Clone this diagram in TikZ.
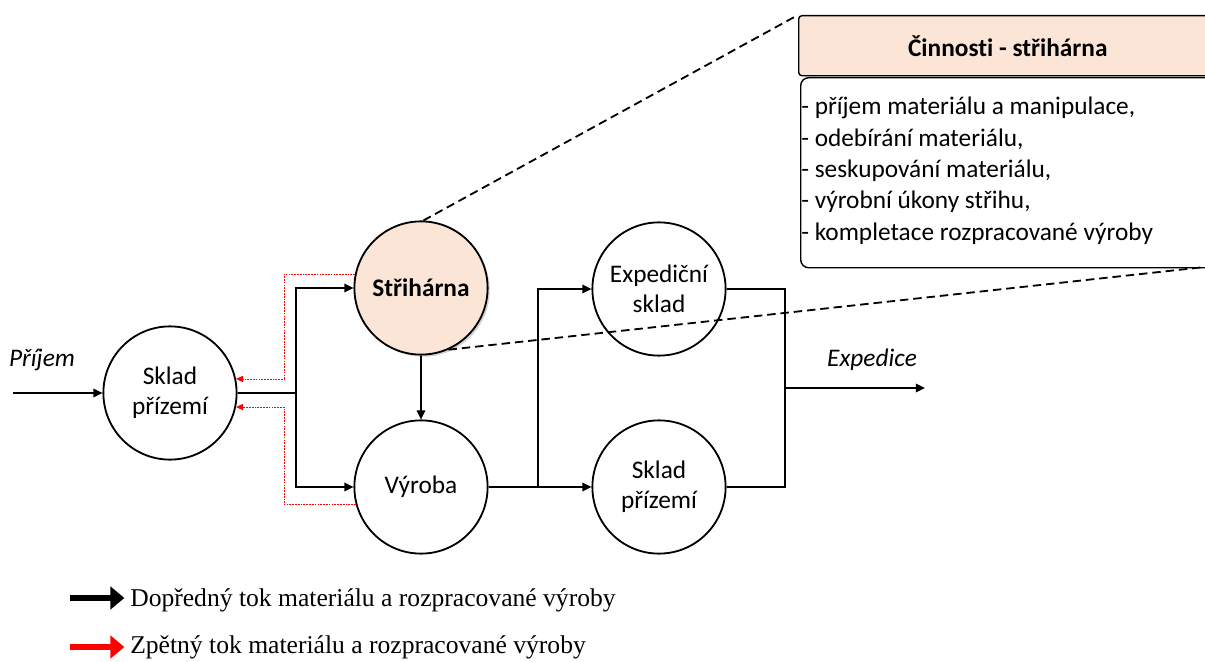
\documentclass[tikz,border=0pt]{standalone}
\usepackage{fontspec}
\setmainfont{Carlito}[RawFeature={-liga}]
\newfontfamily\legendfont{Liberation Serif}
\usetikzlibrary{arrows.meta,shadows}
\definecolor{peach}{HTML}{FBE5D6}
\definecolor{backred}{HTML}{FF0000}

\begin{document}
\begin{tikzpicture}[x=0.025cm,y=-0.025cm,
  station/.style={circle,draw,line width=1.3pt,minimum size=3.33cm,inner sep=0pt,
    align=center,font=\fontsize{18}{21.5}\selectfont},
  flowline/.style={line width=1.3pt},
  flow/.style={line width=1.3pt,-{Triangle[length=6.5pt,width=6pt]}},
  backflow/.style={backred,line width=0.6pt,dash pattern=on 1.2pt off 0.8pt,
    -{Triangle[length=5pt,width=4.5pt]}},
  zoomline/.style={line width=1.3pt,dash pattern=on 6pt off 3.5pt},
  extlabel/.style={font=\fontsize{18}{21.5}\selectfont\itshape},
  legarrow/.style={line width=4pt,shorten >=4pt,
    -{Triangle[length=10pt,width=16pt]}},
  legtext/.style={anchor=west,inner sep=0pt,font=\legendfont\fontsize{18.2}{21}\selectfont}
]
\useasboundingbox (0,0) rectangle (1205,662);

% stations
\node[station] (sp) at (170,393) {Sklad\\přízemí};
\node[station,fill=peach,font=\fontsize{18}{21.5}\selectfont\bfseries,
  drop shadow={shadow xshift=1.5pt,shadow yshift=-1.5pt,opacity=0.35}] (st) at (421,288) {Střihárna};
\node[station] (vy) at (421,487) {Výroba};
\node[station] (ex) at (659,289) {Expediční\\sklad};
\node[station] (sr) at (659,487) {Sklad\\přízemí};

% activity box
\node[draw,fill=peach,line width=1pt,rounded corners=0.08cm,anchor=north west,
  minimum width=10.45cm,minimum height=1.5cm,inner sep=0pt,
  font=\fontsize{18}{21.5}\selectfont\bfseries] (hdr) at (798,15) {Činnosti - střihárna};
\node[draw,line width=1pt,rounded corners=0.2cm,anchor=north west,
  minimum width=10.4cm,minimum height=4.75cm,inner sep=0pt] (body) at (800,77) {};
\node[anchor=north west,inner sep=0pt,align=left,
  font=\fontsize{18}{22.3}\selectfont] (items) at (801,97)
  {- příjem materiálu a manipulace,\\
   - odebírání materiálu,\\
   - seskupování materiálu,\\
   - výrobní úkony střihu,\\
   - kompletace rozpracované výroby};

% zoom lines
\coordinate (zr) at (1205,267);
\draw[zoomline] (st.88) -- (hdr.north west);
\draw[zoomline] (st.-66) -- (zr);

% incoming
\coordinate (in) at (13,393);
\node[extlabel] (prl) at (42,360) {Příjem};
\draw[flow] (in) -- (sp.west);

% forward flows
\coordinate (j1) at (296,393);
\draw[flowline] (sp.east) -- (j1);
\draw[flow] (j1) |- (st.west);
\draw[flow] (j1) |- (vy.west);
\draw[flow] (st.south) -- (vy.north);

\coordinate (j2) at (538,487);
\draw[flowline] (vy.east) -- (j2);
\draw[flow] (j2) |- (ex.west);
\draw[flow] (j2) -- (sr.west);

\coordinate (j3) at (785,388);
\coordinate (out) at (925,388);
\draw[flowline] (ex.east) -| (j3);
\draw[flowline] (sr.east) -| (j3);
\draw[flow] (j3) -- (out);
\node[extlabel] (exl) at (872,360) {Expedice};

% backward flows
\coordinate (rb) at (284,0);
\draw[backflow] (st.168) -- (st.168 -| rb) -- (sp.12 -| rb) -- (sp.12);
\draw[backflow] (vy.195) -- (vy.195 -| rb) -- (sp.-12 -| rb) -- (sp.-12);

% legend
\node[legtext] (l1) at (130,600) {Dopředný tok materiálu a rozpracované výroby};
\node[legtext] (l2) at (130,647) {Zpětný tok materiálu a rozpracované výroby};
\coordinate (a1) at (70,598);
\coordinate (a2) at (70,647);
\draw[legarrow,black] (a1) -- (a1 -| l1.west);
\draw[legarrow,backred] (a2) -- (a2 -| l2.west);
\end{tikzpicture}
\end{document}
